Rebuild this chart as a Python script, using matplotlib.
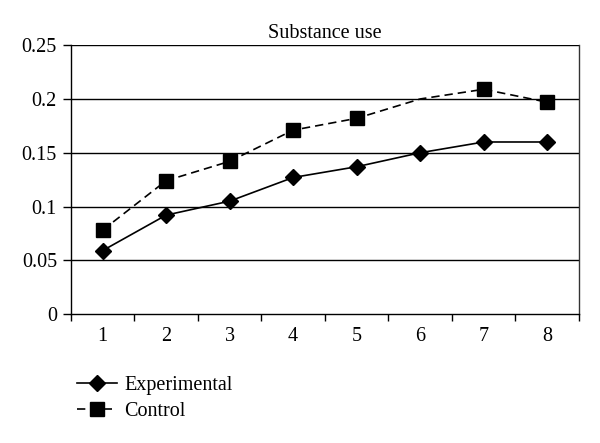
import numpy as np
import matplotlib.pyplot as plt

plt.rcParams['font.family'] = ['Liberation Serif', 'DejaVu Serif']

sessions = [1, 2, 3, 4, 5, 6, 7, 8]
experimental = [0.059, 0.092, 0.105, 0.127, 0.137, 0.150, 0.160, 0.160]
control = [0.078, 0.124, 0.142, 0.171, 0.182, 0.200, 0.209, 0.197]
yticks = [0, 0.05, 0.1, 0.15, 0.2, 0.25]
ytick_labels = ["0", "0.05", "0.1", "0.15", "0.2", "0.25"]

fig = plt.figure(figsize=(6, 4.43), dpi=100)
ax = fig.add_axes([0.118, 0.291, 0.847, 0.607])

for y in yticks[1:]:
    ax.axhline(y, color="black", lw=1.0, zorder=1)

l1, = ax.plot(sessions, experimental, color="black", lw=1.2, marker="D",
              markersize=8, zorder=3, label="Experimental")
l2, = ax.plot(sessions, control, color="black", lw=1.2, ls=(0, (5, 3)), marker="s",
              markersize=10, markevery=[0, 1, 2, 3, 4, 6, 7], zorder=3, label="Control")

ax.set_xlim(0.5, 8.5)
ax.set_ylim(0, 0.25)
ax.set_yticks(yticks)
ax.set_yticklabels(ytick_labels)
ax.set_xticks(sessions)
ax.set_xticks(np.arange(0.5, 9, 1), minor=True)
ax.tick_params(axis="x", which="major", length=0, labelsize=14.5, pad=9)
ax.tick_params(axis="x", which="minor", length=5, width=1)
ax.tick_params(axis="y", length=6, width=1, labelsize=14.5, pad=4)
for s in ax.spines.values():
    s.set_linewidth(1.0)
ax.spines["top"].set_visible(False)
ax.spines["right"].set_color("#333333")

ax.set_title("Substance use", fontsize=14.5, pad=5)

fig.legend(handles=[l1, l2], loc="upper left", bbox_to_anchor=(0.115, 0.17),
           frameon=False, fontsize=14.5, handlelength=2.0, labelspacing=0.35,
           handletextpad=0.35, borderaxespad=0)

fig.savefig("out.png", dpi=100)
